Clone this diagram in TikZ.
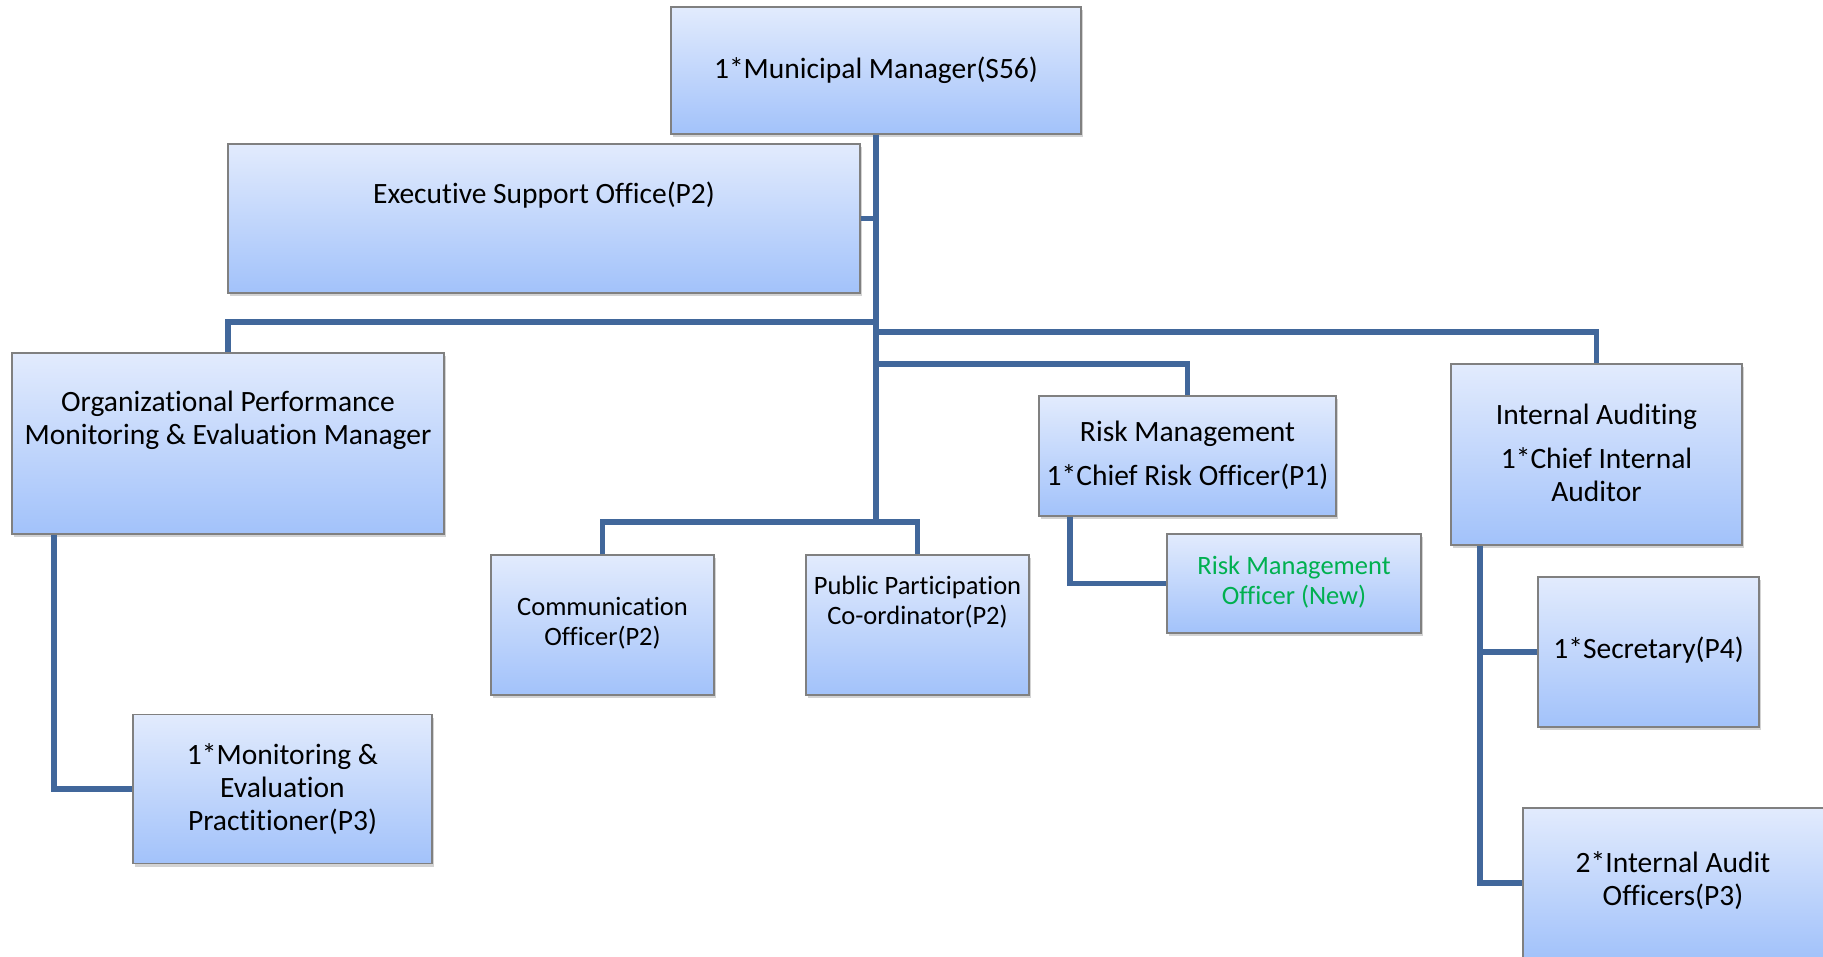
\documentclass[tikz,border=0pt]{standalone}
\usepackage{fontspec}
\setmainfont{Carlito}[Ligatures=NoCommon]
\usetikzlibrary{shadows}
\definecolor{boxtop}{RGB}{226,235,253}
\definecolor{boxbot}{RGB}{162,194,250}
\definecolor{boxline}{RGB}{128,128,128}
\definecolor{connc}{RGB}{65,103,155}
\definecolor{newgreen}{RGB}{0,176,80}
\tikzset{
  orgbox/.style={draw=boxline, line width=1.2pt, shading=axis, top color=boxtop, bottom color=boxbot,
    drop shadow={shadow xshift=2pt, shadow yshift=-3pt, opacity=0.35}, inner sep=0, anchor=center},
  bigtxt/.style={align=center, inner sep=0, font=\fontsize{29.5}{33}\selectfont},
  smalltxt/.style={align=center, inner sep=0, font=\fontsize{26.5}{30}\selectfont},
  conn/.style={draw=connc, line width=5.5pt}
}
\begin{document}
\begin{tikzpicture}[x=1pt,y=-1pt]
\useasboundingbox (0,0) rectangle (1823,957);
% boxes
\node[orgbox, minimum width=410pt, minimum height=127pt] (mm) at (876,70.5) {};
\node[orgbox, minimum width=632pt, minimum height=149pt] (eso) at (544,218.5) {};
\node[orgbox, minimum width=432pt, minimum height=181pt] (org) at (228,443.5) {};
\node[orgbox, minimum width=299pt, minimum height=149pt] (mon) at (282.5,789) {};
\node[orgbox, minimum width=223pt, minimum height=140pt] (comm) at (602.5,625) {};
\node[orgbox, minimum width=223pt, minimum height=140pt] (pp) at (917.5,625) {};
\node[orgbox, minimum width=297pt, minimum height=120pt] (risk) at (1187.5,456) {};
\node[orgbox, minimum width=254pt, minimum height=99pt] (rmo) at (1294,583.5) {};
\node[orgbox, minimum width=291pt, minimum height=181pt] (ia) at (1596.5,454.5) {};
\node[orgbox, minimum width=221pt, minimum height=150pt] (sec) at (1648.5,652) {};
\node[orgbox, minimum width=302pt, minimum height=150pt] (iao) at (1674,883) {};
% junctions
\coordinate (jOrg) at (876,322);
\coordinate (jIA) at (876,332);
\coordinate (jRisk) at (876,364);
\coordinate (jComm) at (876,522);
% connectors
\draw[conn] (mm.south) -- (jComm);
\draw[conn] (eso.east) -- (eso.east -| mm.south);
\draw[conn] (jOrg) -| (org.north);
\draw[conn] (jIA) -| (ia.north);
\draw[conn] (jRisk) -| (risk.north);
\draw[conn] (comm.north) |- (jComm) -| (pp.north);
\draw[conn] ([xshift=-174pt]org.south) |- (mon.west);
\draw[conn] ([xshift=-117.5pt]risk.south) |- (rmo.west);
\draw[conn] ([xshift=-116.5pt]ia.south) |- (iao.west);
\draw[conn] (sec.west) -| ([xshift=-116.5pt]ia.south);
% texts
\node[bigtxt] (tmm) at (876,70) {1*Municipal Manager(S56)};
\node[bigtxt] (teso) at (544,195) {Executive Support Office(P2)};
\node[bigtxt] (torg) at (228,420) {Organizational Performance\\Monitoring \& Evaluation Manager};
\node[bigtxt] (tmon) at (282.5,789) {1*Monitoring \&\\Evaluation\\Practitioner(P3)};
\node[smalltxt] (tcomm) at (602.5,623) {Communication\\Officer(P2)};
\node[smalltxt] (tpp) at (917.5,602) {Public Participation\\Co-ordinator(P2)};
\node[bigtxt] (trisk) at (1187.5,455) {Risk Management\\[11pt]1*Chief Risk Officer(P1)};
\node[smalltxt, text=newgreen] (trmo) at (1294,582) {Risk Management\\Officer (New)};
\node[bigtxt] (tia) at (1596.5,453) {Internal Auditing\\[11pt]1*Chief Internal\\Auditor};
\node[bigtxt] (tsec) at (1648.5,650) {1*Secretary(P4)};
\node[bigtxt] (tiao) at (1673,881) {2*Internal Audit\\Officers(P3)};
\end{tikzpicture}
\end{document}
